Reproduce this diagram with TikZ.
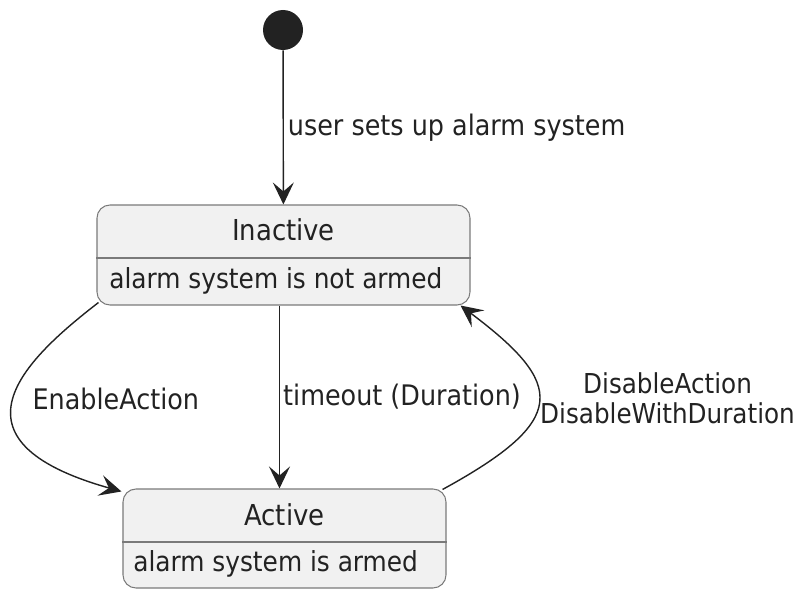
\documentclass[tikz,border=0pt]{standalone}
\usepackage{fontspec}
\setmainfont{DejaVu Sans Condensed}
\usetikzlibrary{positioning,arrows.meta}
\definecolor{statefill}{HTML}{F1F1F1}
\definecolor{stateline}{HTML}{7A7A7A}
\definecolor{ink}{HTML}{222222}

\begin{document}
\begin{tikzpicture}[every node/.style={font=\fontsize{15.7}{17}\selectfont, text=ink},
  sbox/.style={draw=stateline, fill=statefill, rounded corners=0.26cm,
               line width=0.6pt, minimum height=2cm, inner sep=0pt},
  stitle/.style={anchor=base, font=\fontsize{16.4}{18}\selectfont},
  sbody/.style={anchor=base west, inner sep=0pt},
  sepline/.style={draw=stateline, line width=0.6pt},
  lbl/.style={inner sep=0.04cm, font=\fontsize{16.1}{17}\selectfont},
  trans/.style={draw=ink, line width=0.8pt,
                -{Stealth[length=0.44cm, width=0.42cm, inset=0.18cm]}}]

  \useasboundingbox (0,0) rectangle (16,-11.78);

  % initial pseudo state
  \node[circle, fill=ink, minimum size=0.8cm, inner sep=0pt] (init) at (5.66,-0.60) {};

  % Inactive state
  \node[sbox, minimum width=7.46cm] (inact) at (5.67,-5.10) {};
  \node[stitle] (inactT) at (5.67,-4.81) {Inactive};
  \draw[sepline] ([yshift=-0.06cm]inact.west) -- ([yshift=-0.06cm]inact.east);
  \node[sbody] (inactB) at (2.18,-5.77) {alarm system is not armed};

  % Active state
  \node[sbox, minimum width=6.46cm, minimum height=1.98cm] (act) at (5.69,-10.77) {};
  \node[stitle] (actT) at (5.69,-10.50) {Active};
  \draw[sepline] ([yshift=-0.07cm]act.west) -- ([yshift=-0.07cm]act.east);
  \node[sbody] (actB) at (2.66,-11.43) {alarm system is armed};

  % transitions
  \draw[trans] (init) -- node[midway, right=0.04cm, lbl] (lSetup)
    {user sets up alarm system} (inact);
  \draw[trans] ([xshift=-0.08cm]inact.south) -- node[midway, right=0.02cm, lbl] (lTime)
    {timeout (Duration)} ([xshift=-0.1cm]act.north);
  \draw[trans] ([shift={(0.04,0.06)}]inact.south west)
    .. controls +(-1.49,-1.15) and +(-3.63,1.02) ..
    node[pos=0.5, right=0.32cm, lbl] (lEnable) {EnableAction}
    ([shift={(-0.02,-0.06)}]act.north west);
  \draw[trans] ([shift={(-0.08,-0.02)}]act.north east)
    .. controls +(2.54,1.39) and +(2.10,-1.58) ..
    node[pos=0.5, right=0cm, yshift=0.06cm, lbl, inner sep=0.02cm,
         font=\fontsize{15.6}{17}\selectfont, align=center] (lDisable)
    {DisableAction\\DisableWithDuration}
    ([xshift=-0.2cm]inact.south east);
\end{tikzpicture}
\end{document}
